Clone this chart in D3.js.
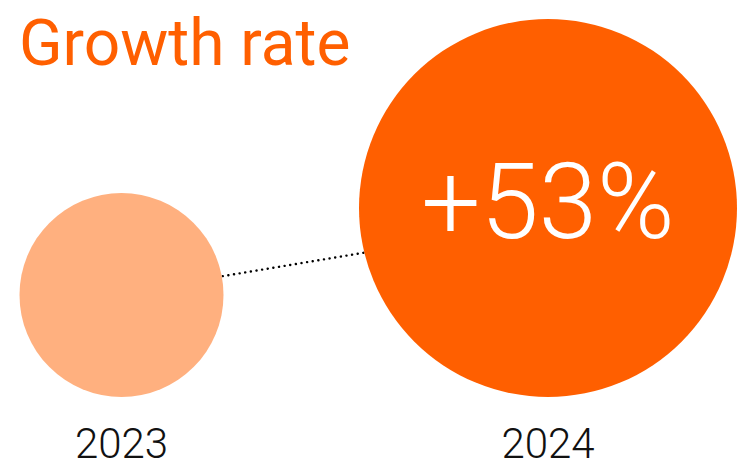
<!DOCTYPE html>
<html>
<head>
<meta charset="utf-8">
<script src="https://cdn.jsdelivr.net/npm/d3@7"></script>
<style>
  html, body { margin: 0; padding: 0; background: #fff; }
  svg { display: block; font-family: Roboto, "Noto Sans", sans-serif; }
</style>
</head>
<body>
<svg id="chart" width="737" height="468"></svg>
<script>
// data
const years = ['2023', '2024'];
const values = [100, 153];
const colors = ['#ffb07f', '#ff5f00'];
const growthLabel = '+53%';
const title = 'Growth rate';

const width = 737, height = 468;
const svg = d3.select('#chart');

const x = d3.scalePoint().domain(years).range([121.5, 548]);
const r = d3.scaleLinear().domain(values).range([102, 189]);
const baseY = 397; // circles sit on a common bottom line

const nodes = years.map((y, i) => ({
  year: y,
  value: values[i],
  color: colors[i],
  cx: x(y),
  r: r(values[i]),
  cy: baseY - r(values[i])
}));

// dotted connector (behind circles)
const a = nodes[0], b = nodes[1];
svg.append('line')
  .attr('x1', a.cx).attr('y1', a.cy - 0.02 * a.r)
  .attr('x2', b.cx).attr('y2', b.cy + 0.075 * b.r)
  .attr('stroke', '#000')
  .attr('stroke-width', 2.4)
  .attr('stroke-linecap', 'round')
  .attr('stroke-dasharray', '0.1 5.6');

svg.selectAll('.bubble').data(nodes).enter()
  .append('circle').attr('class', 'bubble')
  .attr('cx', d => d.cx)
  .attr('cy', d => d.cy)
  .attr('r', d => d.r)
  .attr('fill', d => d.color);

// year labels
svg.selectAll('.year').data(nodes).enter()
  .append('text').attr('class', 'year')
  .attr('x', d => d.cx)
  .attr('y', 458)
  .attr('text-anchor', 'middle')
  .attr('font-size', 42)
  .attr('font-weight', 300)
  .attr('fill', '#111')
  .text(d => d.year);

// growth label inside the big circle
svg.append('text')
  .attr('x', b.cx)
  .attr('y', 238)
  .attr('text-anchor', 'middle')
  .attr('font-size', 105)
  .attr('font-weight', 300)
  .attr('fill', '#fff')
  .text(growthLabel);

// title
svg.append('text')
  .attr('x', 19)
  .attr('y', 65)
  .attr('font-size', 64)
  .attr('fill', '#ff5f00')
  .text(title);
</script>
</body>
</html>
